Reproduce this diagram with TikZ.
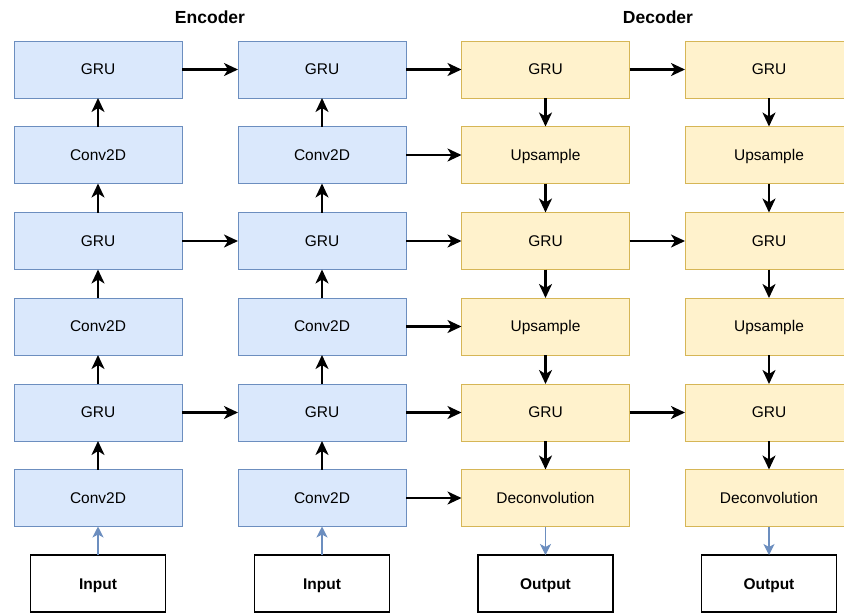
\documentclass[tikz,border=0pt]{standalone}
\usepackage{fontspec}
\setmainfont{Liberation Sans}
\usetikzlibrary{arrows.meta}
\definecolor{encfill}{HTML}{DAE8FC}
\definecolor{encdraw}{HTML}{6C8EBF}
\definecolor{decfill}{HTML}{FFF2CC}
\definecolor{decdraw}{HTML}{D6B656}
\tikzset{
  layer/.style={minimum width=168pt,minimum height=57pt,inner sep=0pt,outer sep=0pt,line width=1pt,text height=10.8pt,text depth=0pt,font=\fontsize{15.5}{18}\selectfont},
  enc/.style={layer,draw=encdraw,fill=encfill},
  dec/.style={layer,draw=decdraw,fill=decfill},
  io/.style={minimum width=135pt,minimum height=57pt,inner sep=0pt,outer sep=0pt,draw=black,line width=1.2pt,fill=white,text height=11pt,text depth=0pt,font=\fontsize{15.5}{18}\selectfont\bfseries},
  hdr/.style={font=\fontsize{17.5}{20}\selectfont\bfseries},
  flow/.style={line width=2.2pt,-{Stealth[length=14pt,width=13pt,inset=4pt]}},
  inarrow/.style={line width=1.1pt,draw=encdraw,-{Stealth[length=11pt,width=11pt,inset=3pt,fill=encdraw]}}
}
\begin{document}
\begin{tikzpicture}[x=1pt,y=-1pt]
\clip (0,0) rectangle (844,614);
\fill[white] (0,0) rectangle (844,614);
\node[hdr] (henc) at (210,17) {Encoder};
\node[hdr] (hdec) at (658,17) {Decoder};
% columns 1 and 2 (encoder)
\foreach \c/\x in {a/98,b/322}{
  \node[enc] (\c1) at (\x,69.5) {GRU};
  \node[enc] (\c2) at (\x,155) {Conv2D};
  \node[enc] (\c3) at (\x,241) {GRU};
  \node[enc] (\c4) at (\x,326.5) {Conv2D};
  \node[enc] (\c5) at (\x,412.5) {GRU};
  \node[enc] (\c6) at (\x,498) {Conv2D};
}
% columns 3 and 4 (decoder)
\foreach \c/\x in {c/545.5,d/769}{
  \node[dec] (\c1) at (\x,69.5) {GRU};
  \node[dec] (\c2) at (\x,155) {Upsample};
  \node[dec] (\c3) at (\x,241) {GRU};
  \node[dec] (\c4) at (\x,326.5) {Upsample};
  \node[dec] (\c5) at (\x,412.5) {GRU};
  \node[dec] (\c6) at (\x,498) {Deconvolution};
}
\node[io] (ia) at (98,583.5) {Input};
\node[io] (ib) at (322,583.5) {Input};
\node[io] (oc) at (545.5,583.5) {Output};
\node[io] (od) at (769,583.5) {Output};
% encoder vertical arrows (upwards)
\foreach \c in {a,b}{
  \draw[flow] (\c6) -- (\c5);
  \draw[flow] (\c5) -- (\c4);
  \draw[flow] (\c4) -- (\c3);
  \draw[flow] (\c3) -- (\c2);
  \draw[flow] (\c2) -- (\c1);
}
% decoder vertical arrows (downwards)
\foreach \c in {c,d}{
  \draw[flow] (\c1) -- (\c2);
  \draw[flow] (\c2) -- (\c3);
  \draw[flow] (\c3) -- (\c4);
  \draw[flow] (\c4) -- (\c5);
  \draw[flow] (\c5) -- (\c6);
}
% horizontal arrows
\foreach \r in {1,3,5}{
  \draw[flow] (a\r) -- (b\r);
  \draw[flow] (c\r) -- (d\r);
}
\foreach \r in {1,...,6}{
  \draw[flow] (b\r) -- (c\r);
}
% inputs and outputs
\draw[inarrow] (ia) -- (a6);
\draw[inarrow] (ib) -- (b6);
\draw[inarrow] (c6) -- (oc);
\draw[inarrow] (d6) -- (od);
\end{tikzpicture}
\end{document}
